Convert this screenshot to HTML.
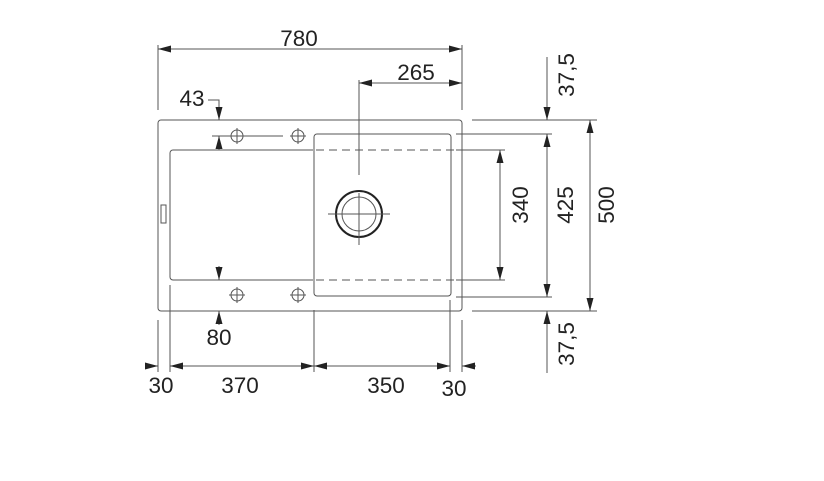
<!DOCTYPE html>
<html><head><style>html,body{margin:0;padding:0;background:#fff}svg{display:block}text{font-family:"Liberation Sans",sans-serif;font-size:22.5px;fill:#222}</style></head><body>
<svg width="824" height="481" viewBox="0 0 824 481" xmlns="http://www.w3.org/2000/svg">
<defs>
<marker id="a" viewBox="0 0 13 7" refX="13" refY="3.5" markerWidth="13" markerHeight="7" markerUnits="userSpaceOnUse" orient="auto-start-reverse"><path d="M0,0L13,3.5L0,7z" fill="#222"/></marker>
</defs>
<g stroke="#555" stroke-width="1" fill="none">
<rect x="158" y="120" width="304" height="191" rx="3"/>
<path d="M313,150H173a3,3 0 0 0 -3,3V277a3,3 0 0 0 3,3H313"/>
<rect x="161" y="205" width="5" height="18"/>
<rect x="314" y="134" width="137" height="162" rx="3"/>
<path d="M316,150H500M316,280H500" stroke-dasharray="8,5"/>
<circle cx="359" cy="214" r="23" stroke="#222" stroke-width="2"/>
<circle cx="359" cy="214" r="17"/>
<path d="M328,214H390M359,80V175M359,193V245"/>
<g>
<circle cx="237" cy="136" r="6"/><path d="M229,136H245M237,128V144"/>
<circle cx="298" cy="136" r="6"/><path d="M290,136H306M298,128V144"/>
<circle cx="237" cy="295" r="6"/><path d="M229,295H245M237,287V303"/>
<circle cx="298" cy="295" r="6"/><path d="M290,295H306M298,287V303"/>
</g>
<path d="M212,136H283"/>
<path d="M158,45V110M462,45V110"/>
<path d="M158,49H462" marker-start="url(#a)" marker-end="url(#a)"/>
<path d="M359,83H462" marker-start="url(#a)" marker-end="url(#a)"/>
<path d="M208,100H219V120" marker-end="url(#a)"/>
<path d="M219,136V150" marker-start="url(#a)"/>
<path d="M219,266V280" marker-end="url(#a)"/>
<path d="M219,311V325" marker-start="url(#a)"/>
<path d="M472,120H597M472,311H597M456,134H552M456,297H552M456,150H505M456,280H505"/>
<path d="M500,150V280" marker-start="url(#a)" marker-end="url(#a)"/>
<path d="M547,134V297" marker-start="url(#a)" marker-end="url(#a)"/>
<path d="M547,57V120" marker-end="url(#a)"/>
<path d="M547,311V373" marker-start="url(#a)"/>
<path d="M590,120V311" marker-start="url(#a)" marker-end="url(#a)"/>
<path d="M158,320V372M170,285V372M314,310V372M450,300V372M462,320V372"/>
<path d="M145,366H158" marker-end="url(#a)"/>
<path d="M170,366H314" marker-start="url(#a)" marker-end="url(#a)"/>
<path d="M314,366H450" marker-start="url(#a)" marker-end="url(#a)"/>
<path d="M462,366H476" marker-start="url(#a)"/>
</g>
<text x="299" y="46" text-anchor="middle">780</text>
<text x="416" y="80" text-anchor="middle">265</text>
<text x="192" y="106" text-anchor="middle">43</text>
<text x="219" y="345" text-anchor="middle">80</text>
<text x="161" y="393" text-anchor="middle">30</text>
<text x="240" y="393" text-anchor="middle">370</text>
<text x="386" y="393" text-anchor="middle">350</text>
<text x="454" y="396" text-anchor="middle">30</text>
<text transform="translate(528,205) rotate(-90)" text-anchor="middle">340</text>
<text transform="translate(573,205) rotate(-90)" text-anchor="middle">425</text>
<text transform="translate(614,205) rotate(-90)" text-anchor="middle">500</text>
<text transform="translate(574,75) rotate(-90)" text-anchor="middle">37,5</text>
<text transform="translate(574,344) rotate(-90)" text-anchor="middle">37,5</text>
</svg>
</body></html>
